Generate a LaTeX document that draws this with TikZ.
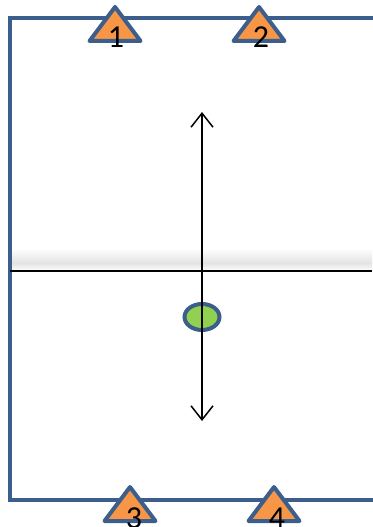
\documentclass[tikz,border=0pt]{standalone}
\usepackage{fontspec}
\setmainfont{Carlito}
\usetikzlibrary{arrows.meta,shapes.geometric}
\definecolor{frameblue}{RGB}{59,94,140}
\definecolor{coneorange}{RGB}{247,150,70}
\definecolor{ballgreen}{RGB}{146,208,80}
\tikzset{
  conelabel/.style={font=\fontsize{32}{32}\selectfont, inner sep=0pt, anchor=base},
  frame/.style={draw=frameblue, line width=4pt},
  ball/.style={ellipse, draw=frameblue, fill=ballgreen, line width=4pt, minimum width=35pt, minimum height=26pt, inner sep=0pt},
  cone/.pic={\draw[draw=frameblue, fill=coneorange, line width=4pt, line join=round] (0,0) -- (-25.5,34) -- (25.5,34) -- cycle;}
}
\begin{document}
\begin{tikzpicture}[x=1pt,y=-1pt]
\useasboundingbox (0,0) rectangle (372,527);
% shadow band
\shade[top color=white, bottom color=black!11] (10,248) rectangle (372,263);
\shade[top color=black!11, bottom color=white] (10,263) rectangle (372,271);
% frame
\coordinate (tr) at (374,18);
\coordinate (tl) at (10,18);
\coordinate (bl) at (10,500);
\coordinate (br) at (374,500);
\draw[frame] (tr) -- (tl) -- (bl) -- (br);
% midline
\coordinate (ml) at (10,271);
\coordinate (mr) at (372,271);
\draw[line width=2pt] (ml) -- (mr);
% ball
\node[ball] (ball) at (202,317) {};
% arrow
\coordinate (atop) at (202,112);
\coordinate (abot) at (202,421);
\draw[line width=1.5pt, {Straight Barb[length=14pt,width=22pt]}-{Straight Barb[length=14pt,width=22pt]}] (abot) -- (atop);
% cones
\pic at (115,7) {cone};
\pic at (259,7) {cone};
\pic at (130,487) {cone};
\pic at (274,487) {cone};
\node[conelabel] (l1) at (116,48) {1};
\node[conelabel] (l2) at (261,48) {2};
\node[conelabel] (l3) at (134,528) {3};
\node[conelabel] (l4) at (277,528) {4};
\end{tikzpicture}
\end{document}
